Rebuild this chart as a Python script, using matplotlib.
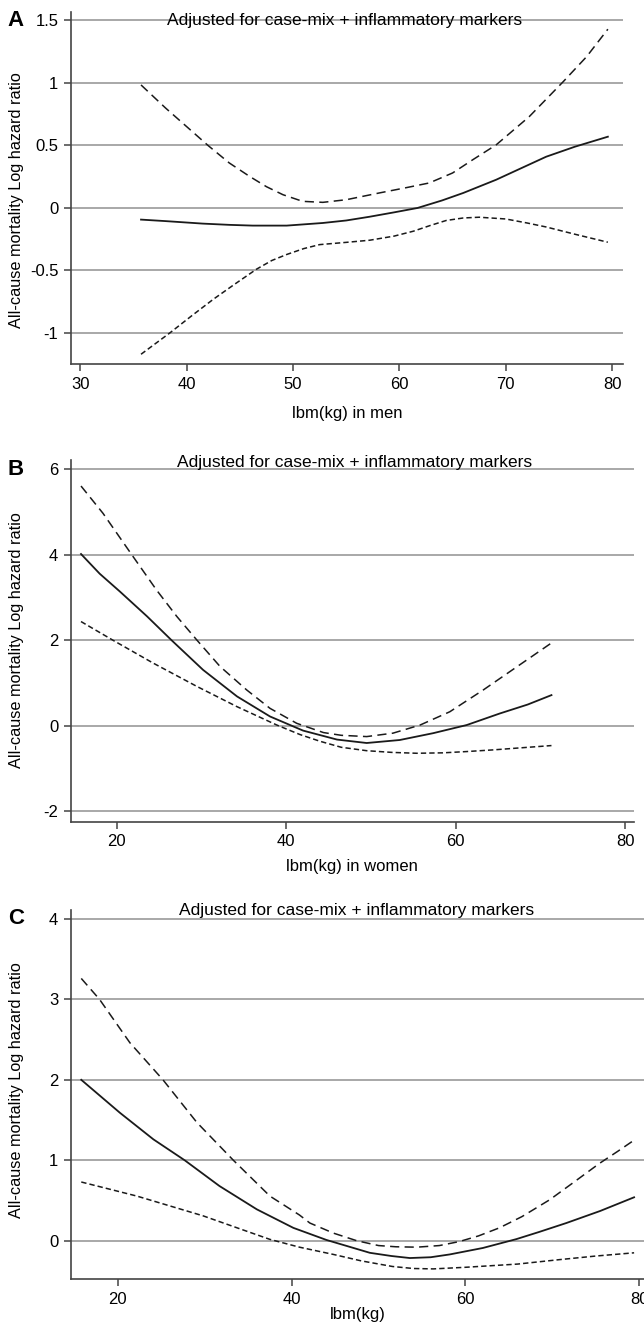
import matplotlib.pyplot as plt
from matplotlib.transforms import blended_transform_factory

plt.rcParams['font.family'] = ['Liberation Sans', 'DejaVu Sans']

# panel A: men
a_x = [35.7, 38, 41.5, 44, 46.2, 49.4, 52.8, 55, 57.2, 59.5, 61.7, 64, 66.0, 69.1, 71.5, 73.8, 76.5, 79.6]
a_fit = [-0.093, -0.105, -0.125, -0.135, -0.141, -0.141, -0.12, -0.1, -0.07, -0.035, 0.0, 0.06,
         0.12, 0.226, 0.32, 0.41, 0.49, 0.57]
a_up_x = [35.7, 38, 40, 42.0, 44, 45.9, 47.5, 49.05, 50.9, 52.8, 55.0, 58.1, 60.5, 62.8, 65.0, 66.9,
          69.1, 72.2, 75.4, 77.6, 79.6]
a_up = [0.984, 0.8, 0.65, 0.5, 0.36, 0.253, 0.17, 0.106, 0.053, 0.045, 0.066, 0.12, 0.16, 0.2, 0.28,
        0.386, 0.505, 0.73, 1.01, 1.21, 1.43]
a_lo_x = [35.7, 38.4, 40.5, 42.5, 44.5, 46.55, 48, 49.4, 51, 52.5, 55, 57.2, 59.5, 61.3, 62.9, 64.4,
          66, 67.5, 70.0, 72, 73.8, 76.5, 79.6]
a_lo = [-1.17, -1.0, -0.86, -0.73, -0.61, -0.49, -0.42, -0.372, -0.325, -0.293, -0.275, -0.258, -0.225,
        -0.186, -0.14, -0.1, -0.08, -0.074, -0.088, -0.12, -0.152, -0.21, -0.274]

# panel B: women
b_x = [15.8, 18, 20.4, 23.6, 26.5, 30.2, 34.2, 38.1, 42.0, 46.0, 49.5, 53.4, 57.35, 61.3, 65.2, 68.5, 71.3]
b_fit = [4.02, 3.56, 3.14, 2.56, 2.0, 1.31, 0.69, 0.22, -0.11, -0.32, -0.4, -0.33, -0.17, 0.02, 0.29,
         0.5, 0.72]
b_up_x = [15.8, 18.4, 21.8, 24.7, 27.1, 29.5, 32.2, 35.35, 38.1, 41.25, 44.4, 46.5, 49.5, 52.6, 55.8,
          59.3, 63.25, 67.2, 71.3]
b_up = [5.61, 4.97, 4.0, 3.18, 2.56, 2.0, 1.39, 0.84, 0.41, 0.06, -0.156, -0.22, -0.25, -0.17, 0.02,
        0.33, 0.84, 1.38, 1.94]
b_lo_x = [15.8, 19.6, 24.3, 29.5, 34.2, 38.9, 41.6, 44.0, 46.5, 49.5, 52.5, 55.4, 58.5, 61.3, 64.5, 67.2, 71.3]
b_lo = [2.44, 2.0, 1.47, 0.92, 0.45, 0.02, -0.2, -0.36, -0.5, -0.58, -0.62, -0.64, -0.63, -0.6, -0.56,
        -0.52, -0.46]

# panel C: all
c_x = [15.8, 20.25, 24.1, 27.7, 31.7, 36.0, 40.2, 44.0, 46.5, 49.0, 51.5, 53.6, 56, 58.2, 62.0, 65.85,
       68.5, 71.6, 75.5, 79.4]
c_fit = [2.0, 1.59, 1.26, 1.0, 0.68, 0.39, 0.16, 0.01, -0.07, -0.15, -0.19, -0.215, -0.205, -0.17,
         -0.09, 0.02, 0.11, 0.22, 0.37, 0.54]
c_up_x = [15.8, 17.9, 21.4, 25.2, 29.1, 33.3, 37.5, 40.9, 42.1, 44.8, 47.5, 50, 52, 54.4, 57, 59.3,
          61.5, 63.9, 66.5, 69.7, 72.5, 75.4, 77.5, 79.4]
c_up = [3.26, 3.0, 2.46, 2.0, 1.47, 1.0, 0.555, 0.32, 0.22, 0.095, 0.0, -0.06, -0.075, -0.08, -0.06,
        -0.01, 0.06, 0.16, 0.3, 0.51, 0.73, 0.96, 1.11, 1.25]
c_lo_x = [15.8, 22.2, 29.8, 34, 37.5, 40.9, 44.8, 48, 51.6, 54, 56.3, 60, 63, 66, 70.8, 75, 79.4]
c_lo = [0.73, 0.555, 0.31, 0.15, 0.017, -0.08, -0.17, -0.25, -0.32, -0.345, -0.35, -0.33, -0.31, -0.29,
        -0.235, -0.19, -0.15]

title = 'Adjusted for case-mix + inflammatory markers'
ylab = 'All-cause mortality Log hazard ratio'

panels = [
    ('A', a_x, a_fit, a_up_x, a_up, a_lo_x, a_lo, [30, 40, 50, 60, 70, 80], ['30', '40', '50', '60', '70', '80'],
     [-1, -0.5, 0, 0.5, 1, 1.5], ['-1', '-0.5', '0', '0.5', '1', '1.5'], (29.1, 81.0), (-1.25, 1.57),
     'lbm(kg) in men', [0.110, 0.7255, 0.857, 0.2657], 345, 20, 413, 200),
    ('B', b_x, b_fit, b_up_x, b_up, b_lo_x, b_lo, [20, 40, 60, 80], ['20', '40', '60', '80'],
     [-2, 0, 2, 4, 6], ['-2', '0', '2', '4', '6'], (14.6, 81.0), (-2.24, 6.22),
     'lbm(kg) in women', [0.110, 0.3808, 0.874, 0.2726], 355, 463, 866, 640),
    ('C', c_x, c_fit, c_up_x, c_up, c_lo_x, c_lo, [20, 40, 60, 80], ['20', '40', '60', '80'],
     [0, 1, 2, 3, 4], ['0', '1', '2', '3', '4'], (14.6, 80.54), (-0.48, 4.11),
     'lbm(kg)', [0.110, 0.0359, 0.890, 0.2783], 357, 910, 1314, 1090),
]

W, H = 644, 1327
fig = plt.figure(figsize=(W / 100, H / 100), dpi=100)

for lab, x, fit, ux, up, lx, lo, xt, xtl, yt, ytl, xl, yl, xlab, pos, tx, ty, xly, yly in panels:
    ax = fig.add_axes(pos)
    for v in yt:
        ax.axhline(v, color='#9a9a9a', lw=1.2, zorder=1)
    ax.plot(x, fit, color='#1a1a1a', lw=1.3, zorder=3)
    ax.plot(ux, up, color='#1a1a1a', lw=1.1, dashes=(6, 3.5), zorder=3)
    ax.plot(lx, lo, color='#1a1a1a', lw=1.1, dashes=(3.5, 2), zorder=3)
    ax.set_xlim(*xl)
    ax.set_ylim(*yl)
    ax.set_xticks(xt)
    ax.set_xticklabels(xtl)
    ax.set_yticks(yt)
    ax.set_yticklabels(ytl)
    for s in ['top', 'right']:
        ax.spines[s].set_visible(False)
    for s in ['left', 'bottom']:
        ax.spines[s].set_color('#444444')
        ax.spines[s].set_linewidth(1.2)
    ax.tick_params(direction='out', length=5, width=1.1, color='#444444', labelsize=12, pad=4)

    fig.text(tx / W, 1 - ty / H, title, fontsize=12.5, ha='center', va='center')
    fig.text(pos[0] + pos[2] / 2 if lab != 'A' else 347 / W, 1 - xly / H, xlab, fontsize=12,
             ha='center', va='center')
    fig.text(17 / W, 1 - yly / H, ylab, fontsize=11.7, rotation=90, ha='center', va='center')
    tr = blended_transform_factory(fig.transFigure, ax.transData)
    ax.text(16 / W, yt[-1], lab, transform=tr, fontsize=16, fontweight='bold',
            ha='center', va='center', clip_on=False)

fig.savefig('out.png', dpi=100)
